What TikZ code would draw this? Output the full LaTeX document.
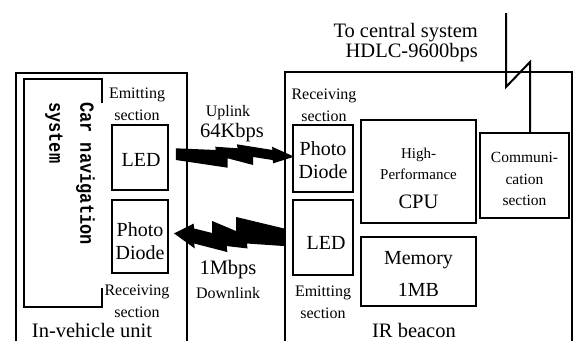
\documentclass[tikz,border=0pt]{standalone}
\usepackage{fontspec}
\setmainfont{Liberation Serif}
\setmonofont{Liberation Mono}
\usetikzlibrary{calc}

\begin{document}
\begin{tikzpicture}[x=1pt,y=-1pt,
  unit/.style={draw,line width=1.8pt,inner sep=0pt},
  boxtext/.style={align=center,inner sep=0pt,font=\fontsize{20}{23}\selectfont},
  note/.style={align=center,inner sep=0pt,font=\fontsize{16}{22}\selectfont},
  big/.style={align=center,inner sep=0pt,font=\fontsize{20.5}{20}\selectfont},
  frame/.style={line width=1.6pt},
  bolt/.pic={\fill (0,-5.7) -- (40,-4) -- (39.3,-7.3) -- (61.7,-5.7) -- (61,-9.7) -- (96.7,-4) -- (96,-7.3) -- (118.3,2.7)
     -- (97.3,9.3) -- (96.7,6) -- (77.3,3) -- (77.3,11) -- (51.7,4.3) -- (51.7,13.7) -- (0,6) -- cycle;}]
 \useasboundingbox (0,0) rectangle (573,341);
 % In-vehicle unit
 \draw[frame] (16,341) |- (187,73) -- (187,341);
 \draw[line width=1.8pt] (102,103) |- (24,79) |- (102,307) -- (102,288);
 \node[rotate=-90,xscale=0.85,anchor=north west,align=left,inner sep=0pt,font=\fontsize{20}{31}\selectfont\ttfamily\bfseries] (carnav) at (95,102) {Car navigation\\system};
 \node[unit,minimum width=56pt,minimum height=65pt] (ledA) at (140,157.5) {};
 \node[boxtext] at ($(ledA)+(1,2.5)$) {LED};
 \node[unit,minimum width=56pt,minimum height=73pt] (pdA) at (140,236.5) {};
 \node[boxtext] at ($(pdA)+(0,5)$) {Photo\\Diode};
 \node[note] (emitA) at (137,104) {Emitting\\section};
 \node[note] (recvA) at (137,301) {Receiving\\section};
 \node[big,anchor=base] (vehicle) at (92,337) {In-vehicle unit};
 % IR beacon
 \draw[frame] (285,341) |- (572,72) -- (572,341);
 \node[unit,minimum width=60pt,minimum height=67pt] (pdB) at (323,158.5) {};
 \node[boxtext] at ($(pdB)+(0,1.5)$) {Photo\\Diode};
 \node[unit,minimum width=60pt,minimum height=75pt] (ledB) at (323,237.5) {};
 \node[boxtext] at ($(ledB)+(3,5.5)$) {LED};
 \node[unit,minimum width=115pt,minimum height=103pt] (cpu) at (418.5,171.5) {};
 \node[boxtext,font=\fontsize{15}{21}\selectfont] at ($(cpu)+(0,7)$) {High-\\Performance\\[8pt]{\fontsize{20.5}{24}\selectfont CPU}};
 \node[unit,minimum width=115pt,minimum height=69pt] (mem) at (418.5,271.5) {};
 \node[boxtext] at ($(mem)+(0,2.5)$) {Memory\\[9pt]1MB};
 \node[unit,minimum width=89pt,minimum height=85pt] (comm) at (524.5,175.5) {};
 \node[boxtext,font=\fontsize{15.5}{21.5}\selectfont] at ($(comm)+(0,3.5)$) {Communi-\\cation\\section};
 \node[note] (recvB) at (324,105) {Receiving\\section};
 \node[note] (emitB) at (323,302) {Emitting\\section};
 \node[big,anchor=base] (beacon) at (414,337) {IR beacon};
 \node[big,align=right,anchor=east] (hdlc) at (478,43) {To central system\\HDLC-9600bps};
 % line to central system
 \coordinate (central) at (506,13);
 \draw[line width=2pt] (central) -- ++(0,74) -- ++(24,-25) -- ([xshift=5.5pt]comm.north);
 % optical links
 \pic at ($(ledA.east)+(7,-3.5)$) {bolt};
 \pic[rotate=180,xscale=0.93,yscale=1.5] at ($(ledB.west)+(-8,0)$) {bolt};
 \node[note] (uplink) at (228,113) {Uplink};
 \node[big] (uprate) at (232,133) {64Kbps};
 \node[big] (downrate) at (228,270) {1Mbps};
 \node[note] (downlink) at (228,293) {Downlink};
\end{tikzpicture}
\end{document}
